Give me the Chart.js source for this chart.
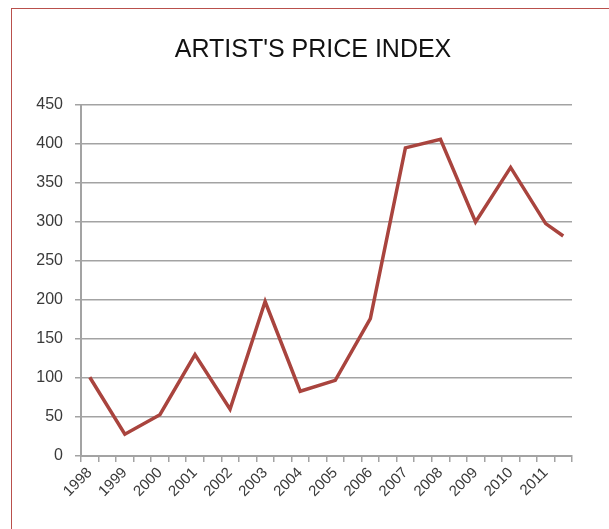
<!DOCTYPE html>
<html>
<head>
<meta charset="utf-8">
<script src="https://cdn.jsdelivr.net/npm/chart.js@4/dist/chart.umd.min.js"></script>
<style>
html, body { margin: 0; padding: 0; background: #fff; overflow: hidden; }
#wrap { position: relative; width: 609px; height: 529px; }
#frame { position: absolute; left: 11px; top: 8px; width: 700px; height: 600px; border: 1px solid #b9504c; box-sizing: border-box; }
#myChart { position: absolute; left: 0; top: 0; }
</style>
</head>
<body>
<div id="wrap">
<div id="frame"></div>
<canvas id="myChart" width="609" height="529"></canvas>
</div>
<script>
// yearly index values, plus one extra reading half a year after 2011
var years = ["1998","1999","2000","2001","2002","2003","2004","2005","2006","2007","2008","2009","2010","2011"]
var yearValues = [101, 28, 53, 130, 60, 198, 83, 97, 176, 395, 406, 300, 370, 298]
var lastHalfValue = 282
var yTicks = [0, 50, 100, 150, 200, 250, 300, 350, 400, 450]

// axis has two slots per year, the label sits on the first one
var xLabels = []
var yValues = []
for (var i = 0; i < years.length; i++) {
    xLabels.push(years[i])
    xLabels.push("")
    yValues.push(yearValues[i])
    yValues.push(null)
}
yValues[yValues.length - 1] = lastHalfValue

var gray = "#a3a3a3"
var txt = "#3a3a3a"
var fontFam = "'Liberation Sans', Arial, sans-serif"

new Chart("myChart", {
    type: "line",
    data: {
        labels: xLabels,
        datasets: [{
            data: yValues,
            borderColor: "#a9443e",
            borderWidth: 3.5,
            pointRadius: 0,
            tension: 0,
            spanGaps: true,
            fill: false
        }]
    },
    options: {
        responsive: false,
        animation: false,
        layout: { padding: { left: 17, right: 0, top: 0, bottom: 0 } },
        plugins: {
            legend: { display: false },
            tooltip: { enabled: false },
            title: {
                display: true,
                text: "ARTIST'S PRICE INDEX",
                color: "#111",
                font: { family: fontFam, size: 25, weight: "normal" },
                padding: { top: 35, bottom: 40 }
            }
        },
        scales: {
            x: {
                offset: true,
                grid: { offset: true, drawOnChartArea: false, color: gray, lineWidth: 1.5, tickLength: 6, tickColor: gray },
                border: { color: gray, width: 2 },
                ticks: {
                    autoSkip: false,
                    maxRotation: 45,
                    minRotation: 45,
                    color: txt,
                    padding: 2,
                    font: { family: fontFam, size: 15 }
                },
                afterFit: function(scale) { scale.height = 73 }
            },
            y: {
                min: 0,
                max: 450,
                afterBuildTicks: function(scale) {
                    scale.ticks = yTicks.map(function(v) { return { value: v } })
                },
                grid: { color: gray, lineWidth: 1.5, tickLength: 6, tickColor: gray },
                border: { color: gray, width: 2 },
                ticks: {
                    color: txt,
                    padding: 12,
                    font: { family: fontFam, size: 16 }
                },
                afterFit: function(scale) { scale.width = 64 }
            },
            // empty axis on the right, only keeps the gap after the plot
            yRight: {
                position: "right",
                min: 0,
                max: 450,
                grid: { display: false },
                border: { display: false },
                ticks: { display: false },
                afterFit: function(scale) { scale.width = 37 }
            }
        }
    }
});
</script>
</body>
</html>
